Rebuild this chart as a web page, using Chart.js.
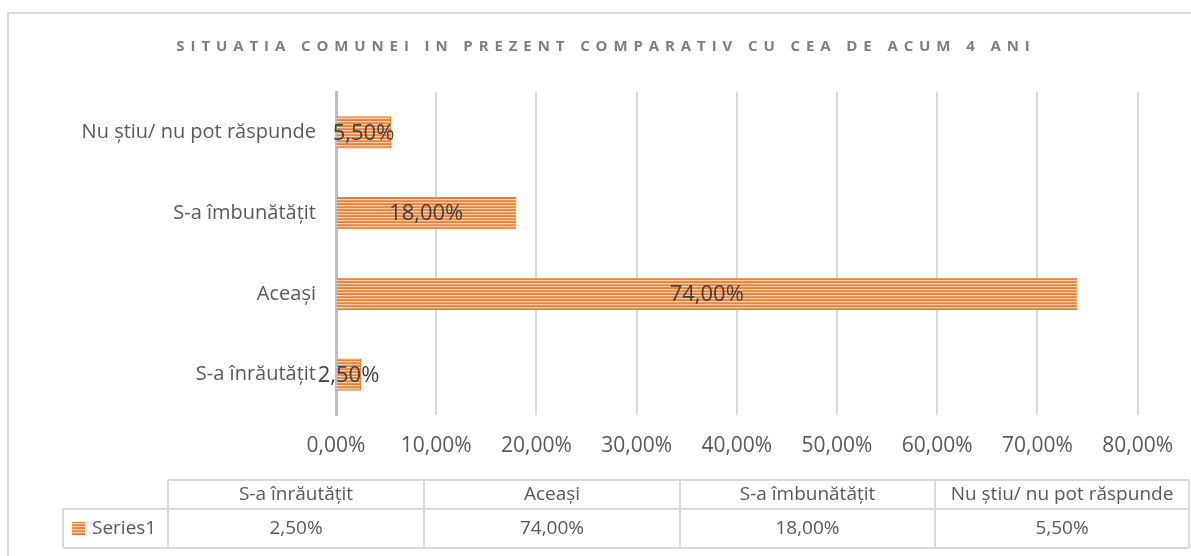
<!DOCTYPE html>
<html>
<head>
<meta charset="utf-8">
<script src="https://cdn.jsdelivr.net/npm/chart.js@4.4.1/dist/chart.umd.min.js"></script>
<style>
  html, body { margin: 0; padding: 0; background: #fff; }
  #wrap { width: 1191px; height: 556px; position: relative; }
</style>
</head>
<body>
<div id="wrap"><canvas id="chart" width="1191" height="556"></canvas></div>
<script>
// data (Excel order: first category is drawn at the bottom)
let categories = ["S-a înrăutățit", "Aceași", "S-a îmbunătățit", "Nu știu/ nu pot răspunde"];
let series1 = [2.5, 74, 18, 5.5];
let seriesName = "Series1";
let xTicks = [0, 10, 20, 30, 40, 50, 60, 70, 80];
let title = "SITUATIA COMUNEI IN PREZENT COMPARATIV CU CEA DE ACUM 4 ANI";

const FONT = "'Open Sans', sans-serif";

function pct(v) {
  return v.toFixed(2).replace(".", ",") + "%";
}

// striped orange fill like the Excel pattern
function makeStripes() {
  let c = document.createElement("canvas");
  c.width = 8; c.height = 6;
  let g = c.getContext("2d");
  let rows = ["#ED7D31", "#FBDFCA", "#F29456", "#EE8238", "#F8CBAA", "#F08A45"];
  rows.forEach((col, i) => {
    g.fillStyle = col;
    g.fillRect(0, i, 8, 1);
  });
  return g.createPattern(c, "repeat");
}

let stripes = makeStripes();

const extras = {
  id: "extras",
  beforeDraw(chart) {
    let ctx = chart.ctx;
    ctx.save();
    ctx.fillStyle = "#fff";
    ctx.fillRect(0, 0, chart.width, chart.height);
    // outer frame
    ctx.strokeStyle = "#D9D9D9";
    ctx.lineWidth = 2;
    ctx.beginPath();
    ctx.moveTo(8, 560);
    ctx.lineTo(8, 13);
    ctx.lineTo(1195, 13);
    ctx.stroke();
    // title
    ctx.fillStyle = "#7F7F7F";
    ctx.font = "bold 15px " + FONT;
    ctx.letterSpacing = "5.9px";
    ctx.textAlign = "center";
    ctx.textBaseline = "middle";
    ctx.fillText(title, 606, 47);
    ctx.restore();
  },
  afterDraw(chart) {
    let ctx = chart.ctx;
    let x = chart.scales.x, y = chart.scales.y;
    ctx.save();

    // value labels centered in bars
    ctx.font = "22px " + FONT;
    ctx.fillStyle = "#404040";
    ctx.textAlign = "center";
    ctx.textBaseline = "middle";
    series1.forEach((v, i) => {
      let cx = (x.getPixelForValue(0) + x.getPixelForValue(v)) / 2;
      ctx.fillText(pct(v), cx, y.getPixelForValue(i) + 1);
    });

    // data table
    let cols = [168, 424, 680, 935, 1189];
    let top = 480, mid = 509, bot = 548, legL = 63;
    ctx.strokeStyle = "#D9D9D9";
    ctx.lineWidth = 2;
    ctx.beginPath();
    ctx.moveTo(cols[0], top); ctx.lineTo(cols[4], top);
    ctx.moveTo(legL, mid); ctx.lineTo(cols[4], mid);
    ctx.moveTo(legL, bot); ctx.lineTo(cols[4], bot);
    ctx.moveTo(legL, mid); ctx.lineTo(legL, bot);
    cols.forEach(cx => {
      ctx.moveTo(cx, top); ctx.lineTo(cx, bot);
    });
    ctx.stroke();

    ctx.fillStyle = "#595959";
    ctx.font = "19px " + FONT;
    categories.forEach((c, i) => {
      let cx = (cols[i] + cols[i + 1]) / 2;
      ctx.fillText(c, cx, (top + mid) / 2);
      ctx.fillText(pct(series1[i]), cx, (mid + bot) / 2);
    });
    // legend key
    ctx.fillStyle = stripes;
    ctx.fillRect(72, 522, 13, 13);
    ctx.fillStyle = "#595959";
    ctx.textAlign = "left";
    ctx.fillText(seriesName, 92, (mid + bot) / 2);
    ctx.restore();
  }
};

new Chart(document.getElementById("chart"), {
  type: "bar",
  data: {
    labels: categories,
    datasets: [{
      label: seriesName,
      data: series1,
      backgroundColor: stripes,
      borderColor: "#ED7D31",
      borderWidth: 1,
      barPercentage: 0.4,
      categoryPercentage: 1
    }]
  },
  options: {
    indexAxis: "y",
    responsive: false,
    animation: false,
    layout: { padding: { left: 0, right: 52, top: 92, bottom: 81 } },
    plugins: {
      legend: { display: false },
      title: { display: false },
      tooltip: { enabled: false }
    },
    scales: {
      x: {
        min: 0,
        max: 80,
        afterBuildTicks: s => { s.ticks = xTicks.map(v => ({ value: v })); },
        afterFit: s => { s.height = 60; },
        grid: { color: "#D9D9D9", lineWidth: 2, drawTicks: false },
        border: { display: false },
        ticks: {
          padding: 18,
          color: "#595959",
          font: { family: FONT, size: 21 },
          callback: v => pct(v)
        }
      },
      y: {
        reverse: true,
        afterFit: s => { s.width = 336; },
        grid: { display: false, drawTicks: false },
        border: { display: true, color: "#BFBFBF", width: 3 },
        ticks: {
          padding: 20,
          color: "#595959",
          font: { family: FONT, size: 20 }
        }
      }
    }
  },
  plugins: [extras]
});
</script>
</body>
</html>
